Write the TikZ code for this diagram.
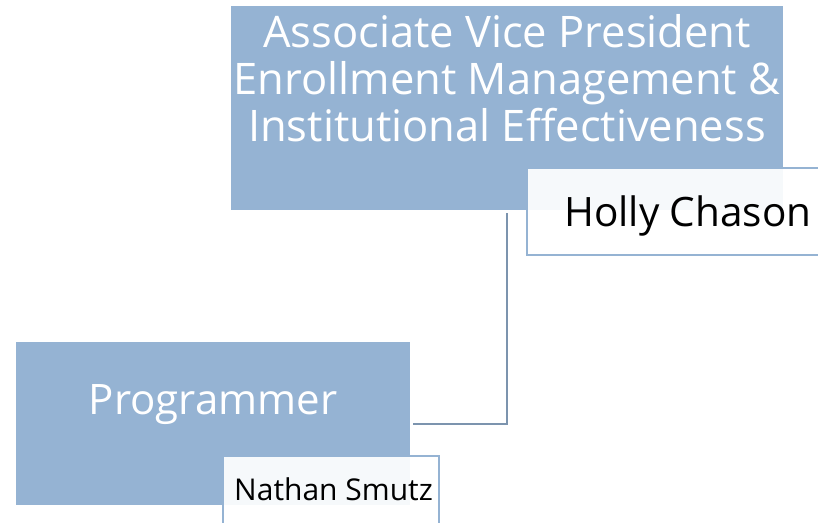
\documentclass[tikz,border=0pt]{standalone}
\usepackage{fontspec}
\setmainfont{Open Sans}
\usepackage{tikz}
\usetikzlibrary{positioning}
\definecolor{boxblue}{HTML}{95B3D3}
\definecolor{linkgray}{HTML}{7C94AE}
\tikzset{
    title-box/.style = {fill=boxblue, rectangle, inner sep=0pt, anchor=north west},
    title-text/.style = {text=white, font=\fontsize{43.5}{47}\selectfont, align=center},
    name-box/.style = {draw=boxblue, line width=1.5pt, fill=white, fill opacity=0.92, rectangle, inner sep=0pt, anchor=north west},
    name-text/.style = {text=black, anchor=base west, inner sep=0pt},
    link/.style = {draw=linkgray, line width=2pt},
}
\begin{document}
\begin{tikzpicture}[x=1pt,y=-1pt]
\clip (0,0) rectangle (818,522);
\node[title-box, minimum width=552pt, minimum height=204pt] (avp) at (231,6) {};
\node[title-text, anchor=north] (avp-title) at (507,11) {Associate Vice President\\Enrollment Management \&\\Institutional Effectiveness};
\node[name-box, minimum width=310pt, minimum height=87pt] (holly-box) at (526,167) {};
\node[name-text, font=\fontsize{40.5}{47}\selectfont] (holly) at (564,226) {Holly Chason};
\node[title-box, minimum width=394pt, minimum height=163pt] (prog) at (16,342) {};
\node[title-text, anchor=base, font=\fontsize{42}{47}\selectfont] (prog-title) at (213,414) {Programmer};
\node[name-box, minimum width=216pt, minimum height=80pt] (nathan-box) at (222,455) {};
\node[name-text, font=\fontsize{30}{34}\selectfont] (nathan) at (234,500) {Nathan Smutz};
% reporting line
\draw[link] ([yshift=-3pt]avp.south) |- ([xshift=3pt]prog.east);
\end{tikzpicture}
\end{document}
